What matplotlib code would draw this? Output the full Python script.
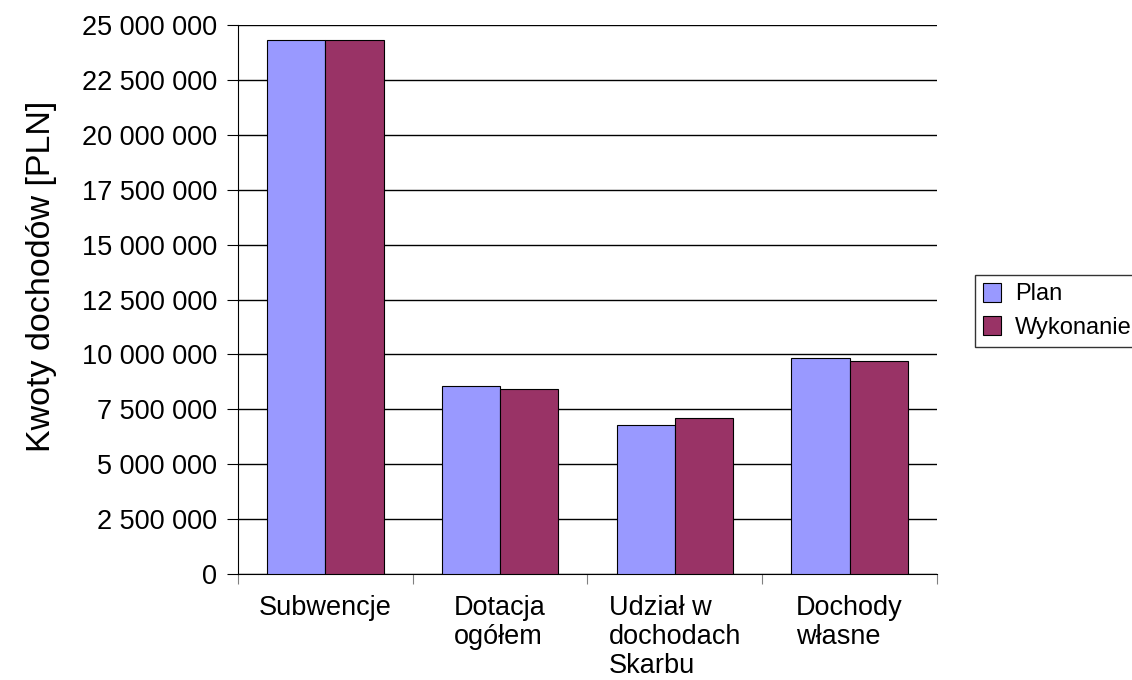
import matplotlib.pyplot as plt
import matplotlib.ticker as mticker
import numpy as np

plt.rcParams['font.family'] = ['Liberation Sans', 'DejaVu Sans']

categories = ["Subwencje", "Dotacja\nogółem", "Udział w\ndochodach\nSkarbu", "Dochody\nwłasne"]
plan = [24320000, 8570000, 6800000, 9840000]
wykonanie = [24320000, 8440000, 7100000, 9700000]
series_names = ["Plan", "Wykonanie"]

fig = plt.figure(figsize=(11.32, 6.8), dpi=100)
ax = fig.add_axes([0.2102, 0.1559, 0.6175, 0.8073])

x = np.arange(len(categories))
w = 1 / 3
ax.bar(x - w / 2, plan, w, color='#9999FF', edgecolor='black', linewidth=0.8, label=series_names[0], zorder=3)
ax.bar(x + w / 2, wykonanie, w, color='#993366', edgecolor='black', linewidth=0.8, label=series_names[1], zorder=3)

ax.set_xlim(-0.5, len(categories) - 0.5)
ax.set_ylim(0, 25000000)
ax.yaxis.set_major_locator(mticker.MultipleLocator(2500000))
ax.yaxis.set_major_formatter(mticker.FuncFormatter(lambda v, p: "{:,.0f}".format(v).replace(",", " ")))
ax.grid(axis='y', color='black', linewidth=1, zorder=0)

# category ticks sit between the groups
ax.set_xticks(np.arange(-0.5, len(categories)), minor=False)
ax.set_xticklabels([])
ax.set_xticks(x, minor=True)
ax.set_xticklabels(categories, minor=True, fontsize=19.5, multialignment='left', linespacing=1.16)
ax.tick_params(axis='x', which='minor', length=0, pad=15)
ax.tick_params(axis='x', which='major', length=7, color='#808080')
ax.tick_params(axis='y', length=8, labelsize=19.5, pad=7)

for s in ['top', 'right']:
    ax.spines[s].set_visible(False)

ax.set_ylabel('Kwoty dochodów [PLN]', fontsize=24.5)
ax.yaxis.set_label_coords(-0.259, 0.543)

leg = fig.legend(loc='center left', bbox_to_anchor=(0.861, 0.543), fontsize=17, frameon=True,
                 fancybox=False, edgecolor='black', handlelength=0.75, handleheight=0.85,
                 handletextpad=0.6, borderpad=0.35, labelspacing=0.45, borderaxespad=0)
leg.get_frame().set_linewidth(1)

plt.savefig('out.png', dpi=100)
